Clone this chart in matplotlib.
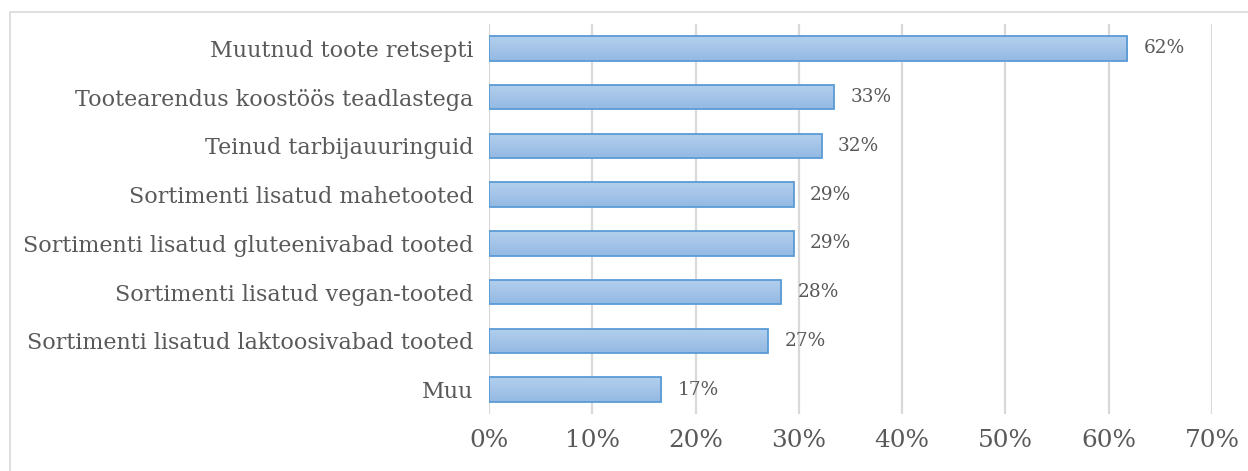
import matplotlib
matplotlib.use("Agg")
import matplotlib.pyplot as plt
import numpy as np
from matplotlib.patches import Rectangle
from matplotlib.colors import LinearSegmentedColormap

categories = [
    "Muutnud toote retsepti",
    "Tootearendus koostöös teadlastega",
    "Teinud tarbijauuringuid",
    "Sortimenti lisatud mahetooted",
    "Sortimenti lisatud gluteenivabad tooted",
    "Sortimenti lisatud vegan-tooted",
    "Sortimenti lisatud laktoosivabad tooted",
    "Muu",
]
values = [61.8, 33.4, 32.2, 29.5, 29.5, 28.3, 27.0, 16.7]
value_labels = ["62%", "33%", "32%", "29%", "29%", "28%", "27%", "17%"]
xticks = [0, 10, 20, 30, 40, 50, 60, 70]

plt.rcParams['font.family'] = ['DejaVu Serif']
text_color = "#595959"

fig = plt.figure(figsize=(12.48, 4.71), dpi=100)
ax = fig.add_axes([489/1248, 1-414/471, (1212-489)/1248, (414-24)/471])

# outer chart frame
fig.patches.append(Rectangle((10/1248, -0.1), 1.2, 1-12/471+0.1, transform=fig.transFigure,
                             fill=False, edgecolor="#d9d9d9", linewidth=1.2, zorder=0))

y = np.arange(len(categories))
bars = ax.barh(y, values, height=0.5, color="none", edgecolor="#5b9bd5", linewidth=1.3, zorder=3)

cmap = LinearSegmentedColormap.from_list("g", ["#b3cfed", "#94b9e3"])
grad = np.linspace(0, 1, 64).reshape(-1, 1)
for b in bars:
    x0, y0 = b.get_x(), b.get_y()
    w, h = b.get_width(), b.get_height()
    im = ax.imshow(grad, cmap=cmap, aspect="auto", extent=(x0, x0 + w, y0 + h, y0),
                   zorder=2, interpolation="bilinear")
    im.set_clip_path(b)

for yi, v, lab in zip(y, values, value_labels):
    ax.text(v + 1.6, yi, lab, va="center", ha="left", fontsize=13.3, color=text_color)

ax.set_xlim(0, 70)
ax.set_ylim(len(categories) - 0.5, -0.5)
ax.set_xticks(xticks)
ax.set_xticklabels([f"{t}%" for t in xticks], fontsize=17.8, color=text_color)
ax.set_yticks(y)
ax.set_yticklabels(categories, fontsize=16.0, color=text_color)
ax.tick_params(axis="both", length=0)
ax.tick_params(axis="y", pad=11)
ax.tick_params(axis="x", pad=11)
ax.grid(axis="x", color="#d9d9d9", linewidth=1.6, zorder=0)
ax.set_axisbelow(True)
for s in ax.spines.values():
    s.set_visible(False)

fig.savefig("out.png", dpi=100)
